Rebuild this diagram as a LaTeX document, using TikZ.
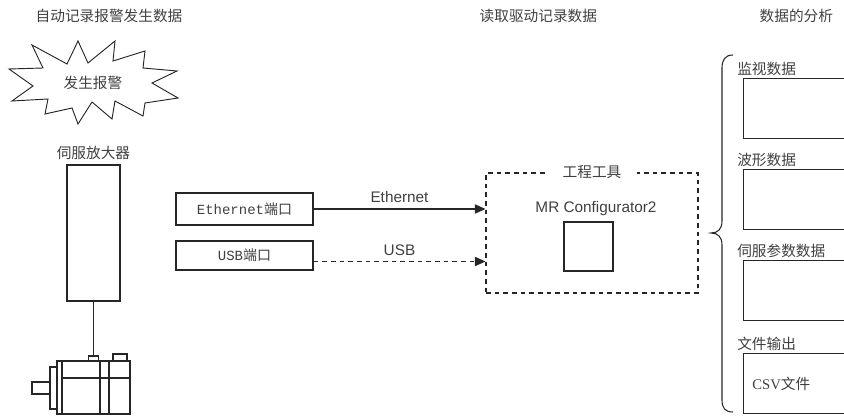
\documentclass[tikz,border=0pt]{standalone}
\usepackage{fontspec}
\setmainfont{Liberation Sans}
\newfontfamily\cjk{Noto Sans CJK SC}
\newfontfamily\portfont{Liberation Mono}
\newfontfamily\csvfont{Liberation Serif}
\usetikzlibrary{arrows.meta, positioning}

\definecolor{txtgray}{HTML}{404040}
\definecolor{linegray}{HTML}{262626}

\begin{document}
\begin{tikzpicture}[
    x=0.75pt, y=-0.75pt,
    font=\cjk\fontsize{11}{13}\selectfont,
    text=txtgray,
    node distance=22.5pt,
    box/.style={
        draw=linegray,
        line width=0.8pt,
        inner sep=0pt
    },
    port/.style={
        box,
        minimum width=102.75pt,
        font=\portfont\fontsize{10.5}{12}\selectfont
    },
    datebox/.style={
        box,
        minimum width=82pt,
        minimum height=45pt
    },
    boxlabel/.style={
        anchor=south west,
        inner sep=1.5pt
    },
    latin/.style={
        font=\fontsize{11.5}{13}\selectfont
    },
    line/.style={
        -{Triangle[length=8pt,width=7pt]},
        line width=0.8pt,
        draw=linegray
    }
]
\clip (0,0) rectangle (844,416);

% Column titles
\node[anchor=west] (title1) at (31,16) {自动记录报警发生数据};
\node[anchor=west] (title2) at (475,16) {读取驱动记录数据};
\node[anchor=west] (title3) at (755,16) {数据的分析};

% Alarm burst
\draw[linegray, line width=0.7pt]
    (9,69) -- (43,68) -- (32,45) -- (67,64) -- (78,41) -- (88,63)
    -- (115,41) -- (113,61) -- (145,51) -- (143,68) -- (177,71)
    -- (152,83) -- (178,98) -- (145,103) -- (143,116) -- (115,101)
    -- (112,119) -- (92,102) -- (78,124) -- (72,108) -- (45,114)
    -- (48,99) -- (12,101) -- (33,86) -- cycle;
\node (alarm) at (93,83) {发生报警};

% Servo amplifier
\node[box, minimum width=39.75pt, minimum height=102pt] (amp) at (93.5,233) {};
\node[above=0pt of amp] (amplbl) {伺服放大器};

% Motor
\node[box, minimum width=7.5pt, minimum height=3.75pt] (enc) at (93.5,358.5) {};
\draw[linegray, line width=0.8pt] (amp.south) -- (enc.north);
\begin{scope}[draw=linegray, line width=0.8pt]
    \draw (57,361) rectangle (130,414);
    \draw (62,361) -- (62,414);
    \draw (100,361) -- (100,414);
    \draw (109,361) -- (109,414);
    \draw (62,378) -- (130,378);
    \draw (50,367) rectangle (57,409);
    \draw (32,382) rectangle (50,394);
    \draw (113,354) rectangle (127,361);
\end{scope}

% Ports
\node[port, minimum height=24pt] (eport) at (244.5,209) {Ethernet{\cjk 端口}};
\node[port, minimum height=21.75pt] (uport) at (244.5,255.5) {USB{\cjk 端口}};

% Engineering tool
\node[draw=linegray, line width=0.8pt, dash pattern=on 3.5pt off 3pt,
      minimum width=159pt, minimum height=90pt] (tool) at (592,233) {};
\node[fill=white, inner xsep=12pt, inner ysep=1pt] (toollbl) at (tool.north) {工程工具};
\node[latin] (mrc) at (596,209) {MR Configurator2};
\node[box, minimum size=36.75pt] (pc) at (588.5,246.5) {};

% Links to the tool
\draw[line] (eport.east) -- node[latin, above=1pt] (ethlbl) {Ethernet} (eport.east -| tool.west);
\draw[line, dash pattern=on 3.5pt off 3pt] ([yshift=-4.5pt]uport.east)
    -- node[latin, above=1pt] (usblbl) {USB} ([yshift=-4.5pt]uport.east -| tool.west);

% Data analysis
\node[datebox, anchor=north west] (mon) at (743,78) {};
\node[datebox, below=of mon] (wave) {};
\node[datebox, below=of wave] (param) {};
\node[datebox, below=24pt of param] (csvbox) {};

\node[boxlabel] (monlbl) at ([xshift=-6pt]mon.north west) {监视数据};
\node[boxlabel] (wavelbl) at ([xshift=-6pt]wave.north west) {波形数据};
\node[boxlabel] (paramlbl) at ([xshift=-6pt]param.north west) {伺服参数数据};
\node[boxlabel] (csvlbl) at ([xshift=-6pt]csvbox.north west) {文件输出};
\node[anchor=west] (csv) at ([xshift=3.5pt]csvbox.west) {{\csvfont CSV}文件};

% Brace
\coordinate (btop) at (733,55);
\coordinate (btip) at (711,233);
\coordinate (bbot) at (733,412);
\draw[linegray, line width=0.8pt]
    (btop) .. controls (725,55) and (722,60) .. (722,68)
    -- (722,221) .. controls (722,229) and (718,233) .. (btip)
    .. controls (718,233) and (722,237) .. (722,245)
    -- (722,400) .. controls (722,408) and (725,412) .. (bbot);

\end{tikzpicture}
\end{document}
